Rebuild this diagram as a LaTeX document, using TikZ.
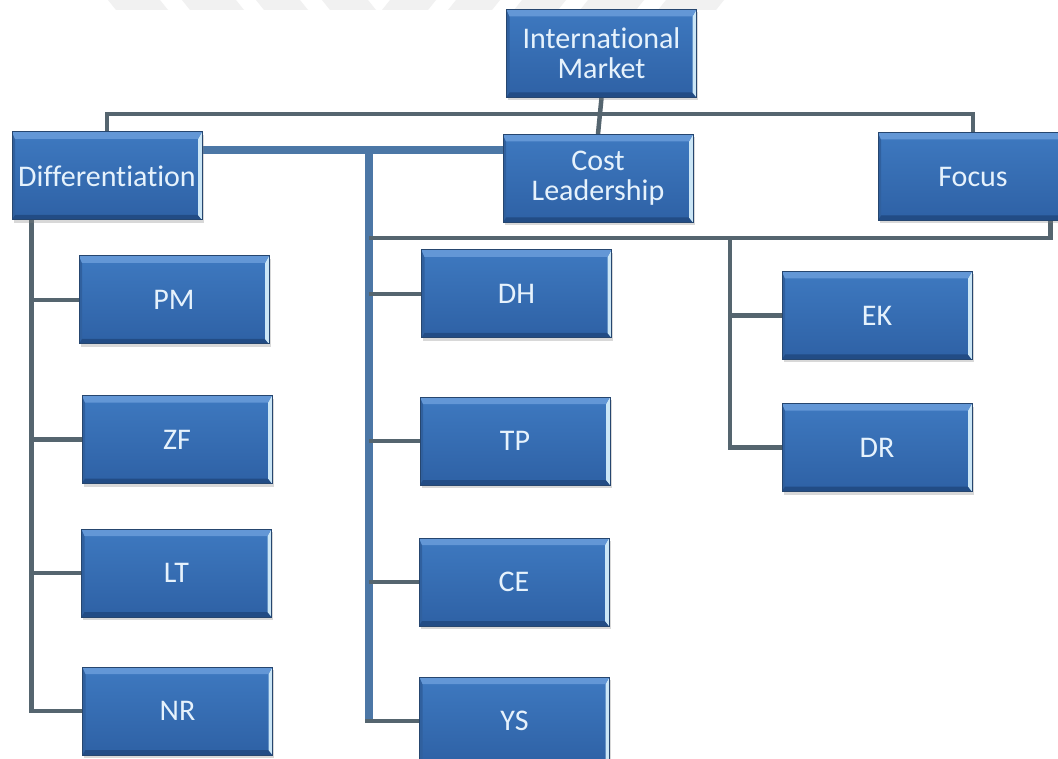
\documentclass[tikz,border=0pt]{standalone}
\usepackage{fontspec}
\setmainfont{Carlito}[Ligatures=NoCommon]
\usetikzlibrary{backgrounds,shadows}
\definecolor{boxtop}{HTML}{3E79C0}
\definecolor{boxbot}{HTML}{2E61A5}
\definecolor{boxedge}{HTML}{26466F}
\definecolor{boxtext}{HTML}{E6F2FC}
\definecolor{bevtop}{HTML}{6397D6}
\definecolor{bevright}{HTML}{CBE6F6}
\definecolor{bevbot}{HTML}{224C85}
\definecolor{bevleft}{HTML}{30609E}
\definecolor{connc}{HTML}{55656F}
\definecolor{thickc}{HTML}{4C77A6}
\definecolor{wmark}{HTML}{F1F1F1}
\tikzset{
  bx/.style={rectangle, minimum width=190pt, minimum height=88pt, inner sep=0pt,
    top color=boxtop, bottom color=boxbot, draw=boxedge, line width=1pt,
    text=boxtext, font=\fontsize{30}{30}\selectfont, align=center,
    drop shadow={shadow xshift=1.5pt, shadow yshift=-3pt, opacity=0.3},
    path picture={
      \fill[bevleft] (path picture bounding box.north west) -- (path picture bounding box.south west)
        -- ([shift={(3pt,5pt)}]path picture bounding box.south west) -- ([shift={(3pt,-7pt)}]path picture bounding box.north west) -- cycle;
      \fill[bevbot] (path picture bounding box.south west) -- (path picture bounding box.south east)
        -- ([shift={(-4pt,5pt)}]path picture bounding box.south east) -- ([shift={(3pt,5pt)}]path picture bounding box.south west) -- cycle;
      \fill[bevright] (path picture bounding box.north east) -- (path picture bounding box.south east)
        -- ([shift={(-4pt,5pt)}]path picture bounding box.south east) -- ([shift={(-4pt,-7pt)}]path picture bounding box.north east) -- cycle;
      \fill[bevtop] (path picture bounding box.north west) -- (path picture bounding box.north east)
        -- ([shift={(-4pt,-7pt)}]path picture bounding box.north east) -- ([shift={(3pt,-7pt)}]path picture bounding box.north west) -- cycle;
    }},
  conn/.style={draw=connc, line width=4.5pt, line join=miter},
  thkline/.style={draw=thickc, line width=8pt, line join=miter}
}
\begin{document}
\begin{tikzpicture}[x=1pt,y=-1pt]
\clip (0,0) rectangle (1058,759);
% boxes
\node[bx] (im) at (601.5,53.5) {International\\Market};
\node[bx] (diff) at (107,176) {Differentiation};
\node[bx] (cost) at (598,178.5) {Cost\\Leadership};
\node[bx] (focus) at (973,176.5) {Focus};
\node[bx] (pm) at (174,300) {PM};
\node[bx] (zf) at (177,439.5) {ZF};
\node[bx] (lt) at (176.5,573) {LT};
\node[bx] (nr) at (177.5,711) {NR};
\node[bx] (dh) at (516.5,294) {DH};
\node[bx] (tp) at (515,441) {TP};
\node[bx] (ce) at (514,582) {CE};
\node[bx] (ys) at (514.5,721) {YS};
\node[bx] (ek) at (877,315.5) {EK};
\node[bx] (dr) at (877,447.5) {DR};
\begin{scope}[on background layer]
  \fill[white] (0,0) rectangle (1058,759);
  % watermark
  \foreach \a/\b/\s in {108/160/8,182/236/8,256/300/8,322/368/8,390/436/-8,456/500/-8,522/566/-8,588/644/-8,666/724/-8}{
    \fill[wmark] (\a,0) -- (\b,0) -- (\b+\s,10) -- (\a+\s,10) -- cycle;
  }
  % top level
  \coordinate (bus) at (600,114);
  \draw[conn] (im.south) -- (cost.north);
  \draw[conn] (diff.north) -- (diff.north |- bus) -- (focus.north |- bus) -- (focus.north);
  % thick link and cost column
  \coordinate (thk) at (369,150);
  \draw[thkline] (diff.east |- thk) -- (cost.west |- thk);
  \draw[thkline] (thk) -- (thk |- ys.west);
  \draw[conn] (thk |- dh.west) -- (dh.west);
  \draw[conn] (thk |- tp.west) -- (tp.west);
  \draw[conn] (thk |- ce.west) -- (ce.west);
  \draw[conn] ([xshift=-4pt]thk |- ys.west) -- (ys.west);
  % differentiation column
  \coordinate (lv) at ([xshift=20pt]diff.south west);
  \draw[conn] (lv) -- (lv |- nr.west) -- (nr.west);
  \draw[conn] (lv |- pm.west) -- (pm.west);
  \draw[conn] (lv |- zf.west) -- (zf.west);
  \draw[conn] (lv |- lt.west) -- (lt.west);
  % focus column
  \coordinate (h2) at (369,238);
  \coordinate (fr) at ([xshift=-18pt]focus.south east);
  \draw[conn] (h2) -- (h2 -| fr) -- (fr);
  \coordinate (ev) at (730,238);
  \draw[conn] (ev) -- (ev |- dr.west) -- (dr.west);
  \draw[conn] (ev |- ek.west) -- (ek.west);
\end{scope}
\end{tikzpicture}
\end{document}
